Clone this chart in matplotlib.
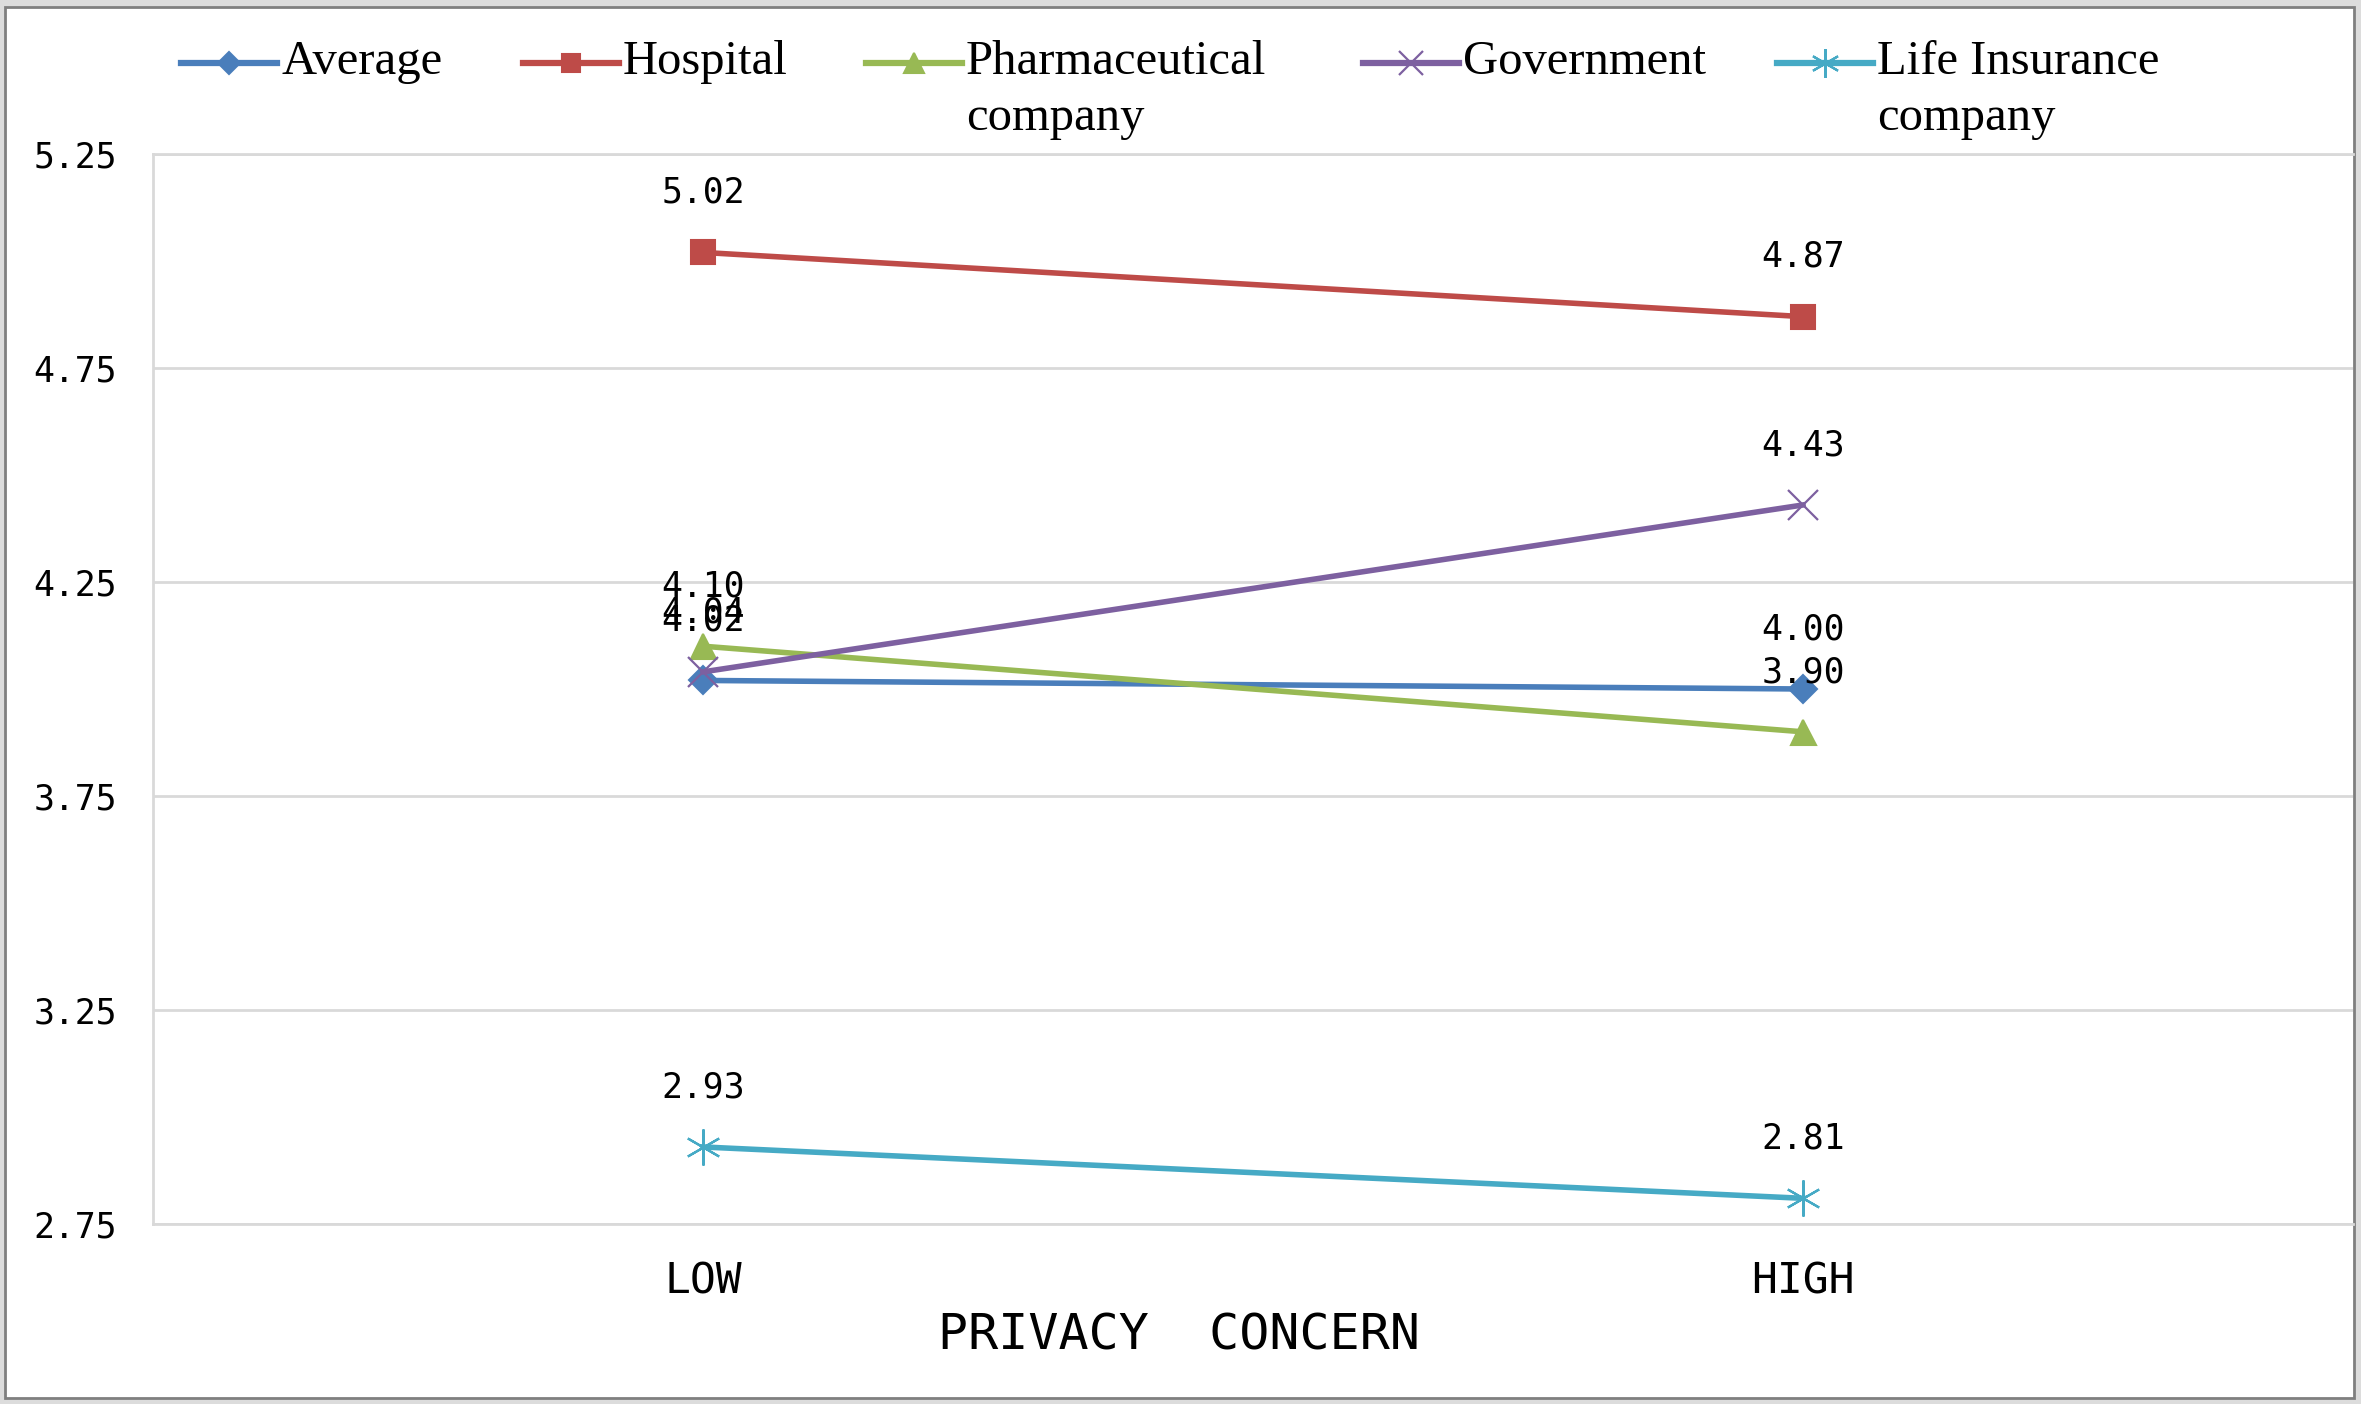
import matplotlib
matplotlib.use("Agg")
import matplotlib.pyplot as plt
from matplotlib.lines import Line2D
from matplotlib.patches import Rectangle

# data
categories = ["LOW", "HIGH"]
series_names = ["Average", "Hospital", "Pharmaceutical\ncompany", "Government", "Life Insurance\ncompany"]
average = [4.02, 4.00]
hospital = [5.02, 4.87]
pharma = [4.10, 3.90]
government = [4.04, 4.43]
life_insurance = [2.93, 2.81]
y_ticks = [2.75, 3.25, 3.75, 4.25, 4.75, 5.25]

values = [average, hospital, pharma, government, life_insurance]
colors = ["#4a7ebb", "#be4b48", "#98b954", "#7d60a0", "#46aac5"]
markers = ["D", "s", "^", "x", (6, 2, 0)]
msizes = [14, 17, 18, 22, 26]
mews = [1.5, 1.5, 1.5, 1.6, 1.6]

W, H = 2361, 1404
fig = plt.figure(figsize=(W / 100, H / 100), dpi=100)
fig.patch.set_facecolor("#dcdcdc")
fig.add_artist(Rectangle((5 / W, 6 / H), 2349 / W, 1391 / H, transform=fig.transFigure,
                         facecolor="white", edgecolor="#7f7f7f", lw=2, zorder=-10))

ax = fig.add_axes([153 / W, 1 - 1224 / H, (2353 - 153) / W, (1224 - 154) / H])
ax.set_facecolor("white")

x = list(range(len(categories)))
for vals, c, m, ms, mew in zip(values, colors, markers, msizes, mews):
    ax.plot(x, vals, color=c, lw=4, marker=m, markersize=ms, markeredgewidth=mew,
            markerfacecolor=c, markeredgecolor=c, zorder=3)
    for xi, v in zip(x, vals):
        ax.annotate("%.2f" % v, (xi, v), xytext=(0, 43), textcoords="offset points",
                    ha="center", va="center", fontsize=25, family="DejaVu Sans Mono", zorder=4)

ax.set_xlim(-0.5, 1.5)
ax.set_ylim(2.75, 5.25)
ax.set_yticks(y_ticks)
ax.set_yticklabels(["%.2f" % t for t in y_ticks], family="DejaVu Sans Mono", fontsize=25)
ax.set_xticks(x)
ax.set_xticklabels(categories, family="DejaVu Sans Mono", fontsize=31)
ax.tick_params(axis="both", length=0)
ax.tick_params(axis="y", pad=26)
ax.tick_params(axis="x", pad=26)
ax.grid(axis="y", color="#d9d9d9", lw=2)
ax.set_axisbelow(True)
for side in ["left", "top", "bottom"]:
    ax.spines[side].set_color("#d9d9d9")
    ax.spines[side].set_linewidth(2)
ax.spines["right"].set_visible(False)

fig.text(0.4995, 1 - 1336 / H, "PRIVACY  CONCERN", ha="center", va="center",
         family="DejaVu Sans Mono", fontsize=36)

# legend drawn by hand so the handles line up with the first text line
leg_x = [181, 523, 866, 1363, 1777]
leg_y = 1 - 63 / H
for lx, name, c, m, ms, mew in zip(leg_x, series_names, colors, markers, msizes, mews):
    fig.add_artist(Line2D([lx / W, (lx + 96) / W], [leg_y, leg_y], transform=fig.transFigure,
                          color=c, lw=4.5))
    fig.add_artist(Line2D([(lx + 48) / W], [leg_y], transform=fig.transFigure, color=c,
                          lw=0, marker=m, markersize=ms * 0.8, markeredgewidth=mew,
                          markerfacecolor=c, markeredgecolor=c))
    fig.text((lx + 100) / W, 1 - 40 / H, name, ha="left", va="top", family="Liberation Serif",
             fontsize=35, linespacing=1.35)

fig.savefig("out.png", dpi=100, facecolor=fig.get_facecolor())
